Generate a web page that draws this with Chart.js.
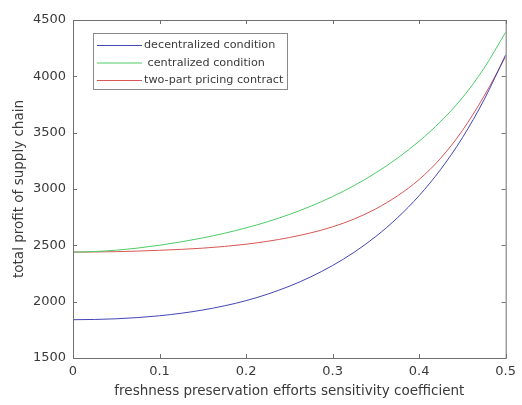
<!DOCTYPE html>
<html lang="en">
<head>
    <meta charset="UTF-8">
    <title>Total profit of supply chain</title>
    <script src="https://cdn.jsdelivr.net/npm/chart.js"></script>
    <style>
        body {
            margin: 0;
            background-color: #fff;
        }

        .wrap {
            width: 522px;
            height: 405px;
        }
    </style>
</head>
<body>

<div class="wrap">
    <canvas id="profitChart" width="522" height="405"></canvas>
</div>

<script>
    // freshness preservation efforts sensitivity coefficient
    const coef = [0, 0.025, 0.05, 0.075, 0.1, 0.125, 0.15, 0.175, 0.2, 0.225, 0.25,
                  0.275, 0.3, 0.325, 0.35, 0.375, 0.4, 0.425, 0.45, 0.475, 0.5];

    const decentralized = [1840, 1842, 1848, 1859, 1875, 1897, 1926, 1963, 2009, 2067, 2137,
                           2221, 2321, 2439, 2579, 2745, 2941, 3175, 3455, 3791, 4191];
    const centralized = [2440, 2445, 2457, 2476, 2501, 2531, 2566, 2607, 2655, 2710, 2774,
                         2848, 2933, 3031, 3144, 3274, 3424, 3600, 3810, 4072, 4392];
    const twoPart = [2440, 2441, 2444, 2449, 2456, 2464, 2475, 2490, 2510, 2536, 2569,
                     2611, 2664, 2734, 2824, 2939, 3084, 3274, 3519, 3824, 4175];

    const seriesNames = ['decentralized condition', ' centralized condition', 'two-part pricing contract'];
    const xTicks = [0, 0.1, 0.2, 0.3, 0.4, 0.5];
    const yTicks = [1500, 2000, 2500, 3000, 3500, 4000, 4500];

    const fontFamily = '"DejaVu Sans", Verdana, sans-serif';
    const axisColor = '#707070';
    const textColor = '#3a3a3a';

    const points = values => coef.map((c, i) => ({ x: c, y: values[i] }));

    function line(label, values, color) {
        return {
            label: label,
            data: points(values),
            borderColor: color,
            backgroundColor: color,
            borderWidth: 1,
            pointRadius: 0,
            cubicInterpolationMode: 'monotone'
        };
    }

    // box around the plot, inward ticks on all four sides, legend in the upper left
    const boxPlugin = {
        id: 'boxAxes',
        afterDraw(chart) {
            const { ctx, chartArea: a, scales } = chart;
            const t = 4;
            ctx.save();
            ctx.strokeStyle = axisColor;
            ctx.lineWidth = 1;
            ctx.strokeRect(a.left + 0.5, a.top + 0.5, a.right - a.left, a.bottom - a.top);
            ctx.beginPath();
            xTicks.forEach(v => {
                const px = Math.round(scales.x.getPixelForValue(v)) + 0.5;
                ctx.moveTo(px, a.bottom); ctx.lineTo(px, a.bottom - t);
                ctx.moveTo(px, a.top); ctx.lineTo(px, a.top + t);
            });
            yTicks.forEach(v => {
                const py = Math.round(scales.y.getPixelForValue(v)) + 0.5;
                ctx.moveTo(a.left, py); ctx.lineTo(a.left + t, py);
                ctx.moveTo(a.right, py); ctx.lineTo(a.right - t, py);
            });
            ctx.stroke();

            // legend
            const lx = 93, ly = 33, lw = 194, lh = 56;
            ctx.fillStyle = '#fff';
            ctx.fillRect(lx, ly, lw, lh);
            ctx.strokeStyle = '#8a8a8a';
            ctx.strokeRect(lx + 0.5, ly + 0.5, lw, lh);
            ctx.font = '11.2px ' + fontFamily;
            ctx.textBaseline = 'middle';
            chart.data.datasets.forEach((ds, i) => {
                const y = ly + 12.5 + i * 17.5;
                ctx.strokeStyle = ds.borderColor;
                ctx.beginPath();
                ctx.moveTo(lx + 4, y);
                ctx.lineTo(lx + 49, y);
                ctx.stroke();
                ctx.fillStyle = textColor;
                ctx.fillText(ds.label, lx + 51, y);
            });
            ctx.restore();
        }
    };

    new Chart(document.getElementById('profitChart'), {
        type: 'line',
        data: {
            datasets: [
                line(seriesNames[0], decentralized, '#4545b5'),
                line(seriesNames[1], centralized, '#4ccc66'),
                line(seriesNames[2], twoPart, '#d85656')
            ]
        },
        options: {
            responsive: false,
            animation: false,
            layout: { padding: { left: 0, top: 20, right: 8, bottom: 0 } },
            plugins: {
                legend: { display: false },
                tooltip: { enabled: false }
            },
            scales: {
                x: {
                    type: 'linear',
                    min: 0,
                    max: 0.5,
                    afterBuildTicks: s => { s.ticks = xTicks.map(v => ({ value: v })); },
                    afterFit: s => { s.height = 47; },
                    grid: { display: false, drawTicks: false },
                    border: { display: false },
                    ticks: {
                        padding: 6,
                        color: textColor,
                        callback: v => String(v),
                        font: { family: fontFamily, size: 13 }
                    },
                    title: {
                        display: true,
                        text: 'freshness preservation efforts sensitivity coefficient',
                        color: textColor,
                        padding: { top: 0, bottom: 5 },
                        font: { family: fontFamily, size: 13.5 }
                    }
                },
                y: {
                    min: 1500,
                    max: 4500,
                    afterBuildTicks: s => { s.ticks = yTicks.map(v => ({ value: v })); },
                    afterFit: s => { s.width = 73; },
                    grid: { display: false, drawTicks: false },
                    border: { display: false },
                    ticks: {
                        padding: 7,
                        color: textColor,
                        callback: v => String(v),
                        font: { family: fontFamily, size: 13 }
                    },
                    title: {
                        display: true,
                        text: 'total profit of supply chain',
                        color: textColor,
                        padding: { top: 11, bottom: 0 },
                        font: { family: fontFamily, size: 13.5 }
                    }
                }
            }
        },
        plugins: [boxPlugin]
    });
</script>

</body>
</html>
